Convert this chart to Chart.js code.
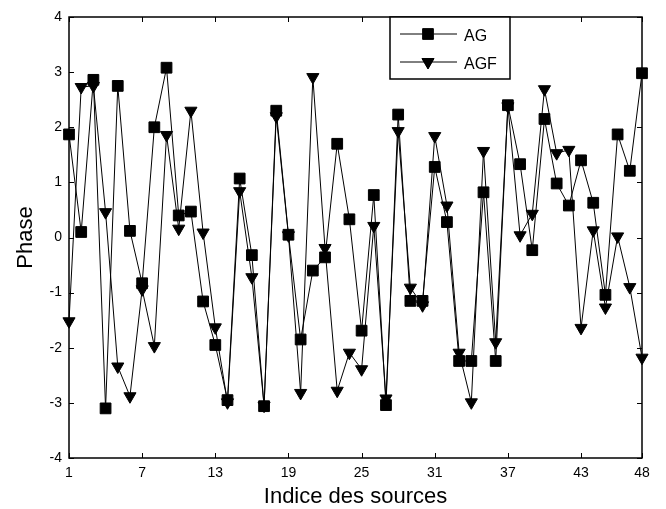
<!DOCTYPE html>
<html>
<head>
<meta charset="utf-8">
<script src="https://cdn.jsdelivr.net/npm/chart.js@4"></script>
<style>
  html, body { margin: 0; padding: 0; background: #fff; }
  #wrap { width: 666px; height: 509px; }
</style>
</head>
<body>
<div id="wrap"><canvas id="graf" width="666" height="509"></canvas></div>
<script>
// Indices des sources 1..48
const indices = [];
for (let i = 1; i <= 48; i++) indices.push(i);

const valAG = [
  1.87, 0.10, 2.86, -3.10, 2.75, 0.12, -0.83, 2.00, 3.08, 0.40,
  0.47, -1.16, -1.95, -2.95, 1.07, -0.32, -3.06, 2.30, 0.05, -1.85,
  -0.60, -0.36, 1.70, 0.33, -1.69, 0.77, -3.04, 2.23, -1.15, -1.15,
  1.28, 0.28, -2.24, -2.24, 0.82, -2.24, 2.40, 1.33, -0.23, 2.15,
  0.98, 0.58, 1.40, 0.63, -1.04, 1.87, 1.21, 2.98
];
const valAGF = [
  -1.52, 2.73, 2.75, 0.46, -2.34, -2.88, -0.94, -1.97, 1.86, 0.16,
  2.30, 0.09, -1.63, -2.99, 0.84, -0.72, -3.05, 2.20, 0.04, -2.82,
  2.91, -0.19, -2.78, -2.09, -2.39, 0.21, -2.92, 1.93, -0.91, -1.23,
  1.84, 0.58, -2.09, -2.99, 1.57, -1.90, 2.38, 0.04, 0.43, 2.69,
  1.53, 1.59, -1.64, 0.13, -1.27, 0.02, -0.90, -2.18
];
const xTicks = [1, 7, 13, 19, 25, 31, 37, 43, 48];
const yTicks = [-4, -3, -2, -1, 0, 1, 2, 3, 4];
const seriesNames = ["AG", "AGF"];

const police = "'Liberation Sans', Arial, Helvetica, sans-serif";

// cadre, graduations intérieures et légende
const cadrePlugin = {
  id: "cadre",
  afterDatasetsDraw(chart) {
    const ctx = chart.ctx;
    const a = chart.chartArea;
    const sx = chart.scales.x, sy = chart.scales.y;
    ctx.save();
    ctx.strokeStyle = "#000";
    ctx.lineWidth = 1.5;
    ctx.strokeRect(a.left, a.top, a.right - a.left, a.bottom - a.top);
    ctx.lineWidth = 1;
    ctx.beginPath();
    xTicks.forEach(v => {
      const px = Math.round(sx.getPixelForValue(v)) + 0.5;
      ctx.moveTo(px, a.bottom); ctx.lineTo(px, a.bottom - 5);
      ctx.moveTo(px, a.top); ctx.lineTo(px, a.top + 5);
    });
    yTicks.forEach(v => {
      const py = Math.round(sy.getPixelForValue(v)) + 0.5;
      ctx.moveTo(a.left, py); ctx.lineTo(a.left + 5, py);
      ctx.moveTo(a.right, py); ctx.lineTo(a.right - 5, py);
    });
    ctx.stroke();

    // légende
    const lx = 390, ly = a.top, lw = 120, lh = 62;
    ctx.fillStyle = "#fff";
    ctx.fillRect(lx, ly, lw, lh);
    ctx.lineWidth = 1.5;
    ctx.strokeRect(lx, ly, lw, lh);
    const rows = [ly + 17, ly + 45];
    chart.data.datasets.forEach((ds, i) => {
      const y = rows[i];
      ctx.lineWidth = 1;
      ctx.strokeStyle = "#000";
      ctx.beginPath();
      ctx.moveTo(400, y); ctx.lineTo(457, y);
      ctx.stroke();
      Chart.helpers.drawPoint(ctx, {
        pointStyle: ds.pointStyle,
        radius: ds.pointRadius,
        rotation: ds.pointRotation || 0,
        borderWidth: 1
      }, 428, y);
      ctx.fillStyle = "#000";
      ctx.fill();
      ctx.font = "16px " + police;
      ctx.textBaseline = "middle";
      ctx.textAlign = "left";
      ctx.fillText(seriesNames[i], 464, y + 3);
    });
    ctx.restore();
  }
};

const serie = (nom, vals, style, r, rot) => ({
  label: nom,
  data: vals.map((v, i) => ({ x: indices[i], y: v })),
  borderColor: "#000",
  borderWidth: 1,
  backgroundColor: "#000",
  pointStyle: style,
  pointRadius: r,
  pointRotation: rot,
  pointBackgroundColor: "#000",
  pointBorderColor: "#000",
  pointBorderWidth: 1,
  tension: 0
});

new Chart(document.getElementById("graf").getContext("2d"), {
  type: "line",
  data: {
    datasets: [
      serie("AG", valAG, "rect", 7.6, 0),
      serie("AGF", valAGF, "triangle", 7, 180)
    ]
  },
  options: {
    responsive: false,
    animation: false,
    clip: false,
    layout: { padding: { left: 0, top: 17, right: 24, bottom: 0 } },
    plugins: { legend: { display: false }, tooltip: { enabled: false } },
    scales: {
      x: {
        type: "linear",
        min: 1, max: 48,
        afterBuildTicks: s => { s.ticks = xTicks.map(v => ({ value: v })); },
        afterFit: s => { s.height = 51; },
        grid: { display: false, drawTicks: false },
        border: { display: false },
        ticks: { color: "#000", font: { family: police, size: 14 }, padding: 7, maxRotation: 0, autoSkip: false },
        title: { display: true, text: "Indice des sources", color: "#000", font: { family: police, size: 22, lineHeight: 1 }, padding: { top: 0, bottom: 1 } }
      },
      y: {
        min: -4, max: 4,
        afterBuildTicks: s => { s.ticks = yTicks.map(v => ({ value: v })); },
        afterFit: s => { s.width = 69; },
        grid: { display: false, drawTicks: false },
        border: { display: false },
        ticks: { color: "#000", font: { family: police, size: 14 }, padding: 7 },
        title: { display: true, text: "Phase", color: "#000", font: { family: police, size: 22, lineHeight: 1 }, padding: { top: 15, bottom: 0 } }
      }
    }
  },
  plugins: [cadrePlugin]
});
</script>
</body>
</html>
